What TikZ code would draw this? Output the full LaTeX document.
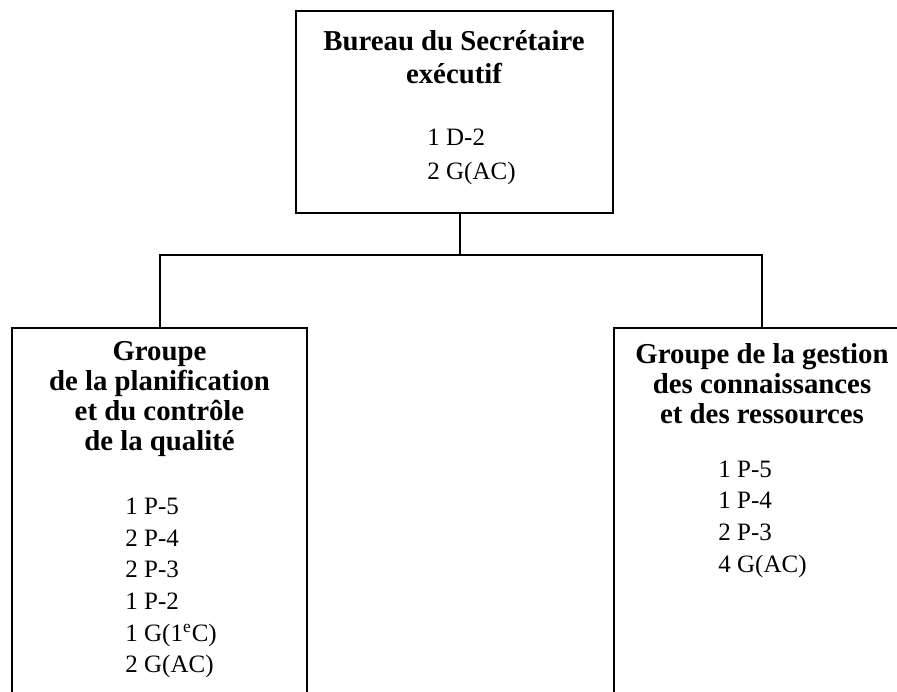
\documentclass[tikz,border=0pt]{standalone}
\usepackage{fontspec}
\setmainfont{Liberation Serif}

\begin{document}
\begin{tikzpicture}[x=0.5pt, y=-0.5pt,
        unitbox/.style={draw, line width=1pt, minimum width=#1, inner sep=0pt},
        title/.style={font=\fontsize{14.4}{15}\selectfont\bfseries, align=center, inner sep=0pt},
        posts/.style={font=\fontsize{12.5}{15.8}\selectfont, align=left, anchor=west, inner sep=0pt}
      ]
        \useasboundingbox (0,0) rectangle (897,691);
        \clip (0,0) rectangle (897,691);
        \node[unitbox=158.5pt, minimum height=101pt] (bureau) at (454.5,112) {};
        \node[unitbox=147.5pt, minimum height=196pt] (planif) at (159.5,524) {};
        \node[unitbox=148pt, minimum height=196pt] (gestion) at (762,524) {};
        \coordinate (hub) at (460,255);
        \draw[line width=1pt] (bureau.south -| hub) -- (hub);
        \draw[line width=1pt] (planif.north) |- (hub) -| (gestion.north);
        \node[title, font=\fontsize{14.4}{16.5}\selectfont\bfseries] (bureautitle) at (454,57) {Bureau du Secrétaire\\exécutif};
        \node[posts, font=\fontsize{12.5}{17}\selectfont] (bureauposts) at (427,157) {1 D-2\\2 G(AC)};
        \node[title] (planiftitle) at (159.5,399) {Groupe\\de la planification\\et du contrôle\\de la qualité};
        \node[posts] (planifposts) at (125,588) {1 P-5\\2 P-4\\2 P-3\\1 P-2\\1 G(1\textsuperscript{e}C)\\2 G(AC)};
        \node[title] (gestiontitle) at (762,384) {Groupe de la gestion\\des connaissances\\et des ressources};
        \node[posts] (gestionposts) at (718,519) {1 P-5\\1 P-4\\2 P-3\\4 G(AC)};
\end{tikzpicture}
\end{document}
